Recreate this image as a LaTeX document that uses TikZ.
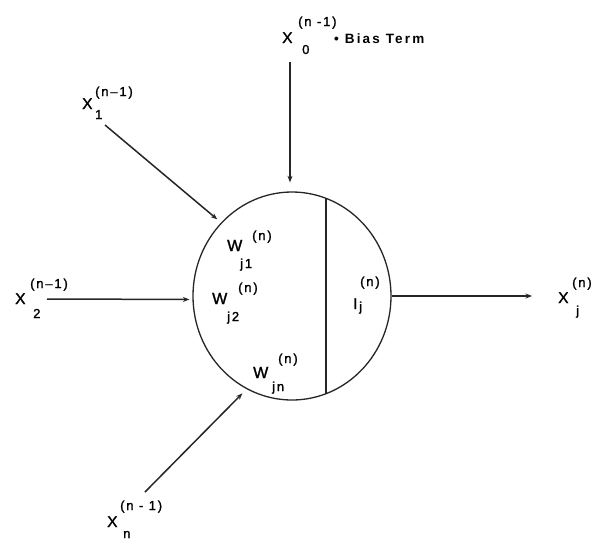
\documentclass[tikz,border=0pt]{standalone}
\usepackage{fontspec}
\setmainfont{Liberation Sans}
\newfontfamily\lf{Liberation Sans}[LetterSpace=10,FakeBold=1.5]
\newfontfamily\lfs{Liberation Sans}[LetterSpace=14,FakeBold=1.5]
\newfontfamily\lfb{Liberation Sans}[LetterSpace=16]
\usetikzlibrary{shapes.geometric,arrows.meta,calc}
\begin{document}
\begin{tikzpicture}[x=1pt,y=-1pt,
  big/.style={font=\lf\fontsize{15.5}{15.5}\selectfont, anchor=base west, inner sep=0pt},
  wbig/.style={font=\lf\fontsize{16}{16}\selectfont, anchor=base west, inner sep=0pt},
  sm/.style={font=\lfs\fontsize{13}{13}\selectfont, anchor=base west, inner sep=0pt},
  bias/.style={font=\lfb\bfseries\fontsize{13.5}{13.5}\selectfont, anchor=base west, inner sep=0pt},
  ln/.style={line width=1.5pt, black!85},
  arr/.style={ln, -{Stealth[length=6.5pt,width=5pt]}},
  cellstyle/.style={ellipse, draw, line width=1.3pt, black!85, minimum width=198pt, minimum height=208pt, inner sep=0pt}
]
\useasboundingbox (0,0) rectangle (600,542);
\fill[white] (0,0) rectangle (600,542);

% neuron body
\node[cellstyle] (cell) at (292,296) {};
\coordinate (divtop) at ($(cell.center)+(34,-97.7)$);
\coordinate (divbot) at ($(cell.center)+(34,97.7)$);
\draw[ln] (divtop) -- (divbot);

% inputs
\node[big] (x0) at (282,43) {X};
\node[sm] (x0p) at (298,26) {(n -1)};
\node[sm] (x0b) at (302,54) {0};
\node[bias] (bias) at (334,43) {•\kern6pt Bias Term};

\node[big] (x1) at (82,109) {X};
\node[sm] (x1p) at (95,96) {(n–1)};
\node[sm] (x1b) at (95,119) {1};

\node[big] (x2) at (15,304) {X};
\node[sm] (x2p) at (30,288) {(n–1)};
\node[sm] (x2b) at (33,318) {2};

\node[big] (xn) at (107,527) {X};
\node[sm] (xnp) at (120,510) {(n - 1)};
\node[sm] (xnb) at (123,538) {n};

\node[big] (xj) at (558,303) {X};
\node[sm] (xjp) at (572,287) {(n)};
\node[sm] (xjb) at (576,315) {j};

% inner labels
\node[wbig] (w1) at (227,251) {W};
\node[sm] (w1p) at (252,240) {(n)};
\node[sm] (w1b) at (240,268) {j1};

\node[wbig] (w2) at (212,304) {W};
\node[sm] (w2p) at (238,292) {(n)};
\node[sm] (w2b) at (227,321) {j2};

\node[wbig] (wn) at (253,378) {W};
\node[sm] (wnp) at (278,363) {(n)};
\node[sm] (wnb) at (272,391) {jn};

\node[big] (ij) at (353,309) {I};
\node[sm] (ijp) at (360,286) {(n)};
\node[sm] (ijb) at (359,311) {j};

% connectors
\coordinate (s0) at (290,62);
\coordinate (s1) at (105,125);
\coordinate (s2) at (47,299);
\coordinate (sn) at (145,492);
\coordinate (oe) at (532,296);

\draw[arr, shorten >=9pt] (s0) -- ([xshift=-2pt]cell.north);
\draw[arr, shorten >=5pt] (s1) -- (cell.134);
\draw[arr, shorten >=3pt] (s2) -- (cell.182);
\draw[arr, shorten >=6pt] (sn) -- (cell.244);
\draw[arr] (cell.east) -- (oe);
\end{tikzpicture}
\end{document}
